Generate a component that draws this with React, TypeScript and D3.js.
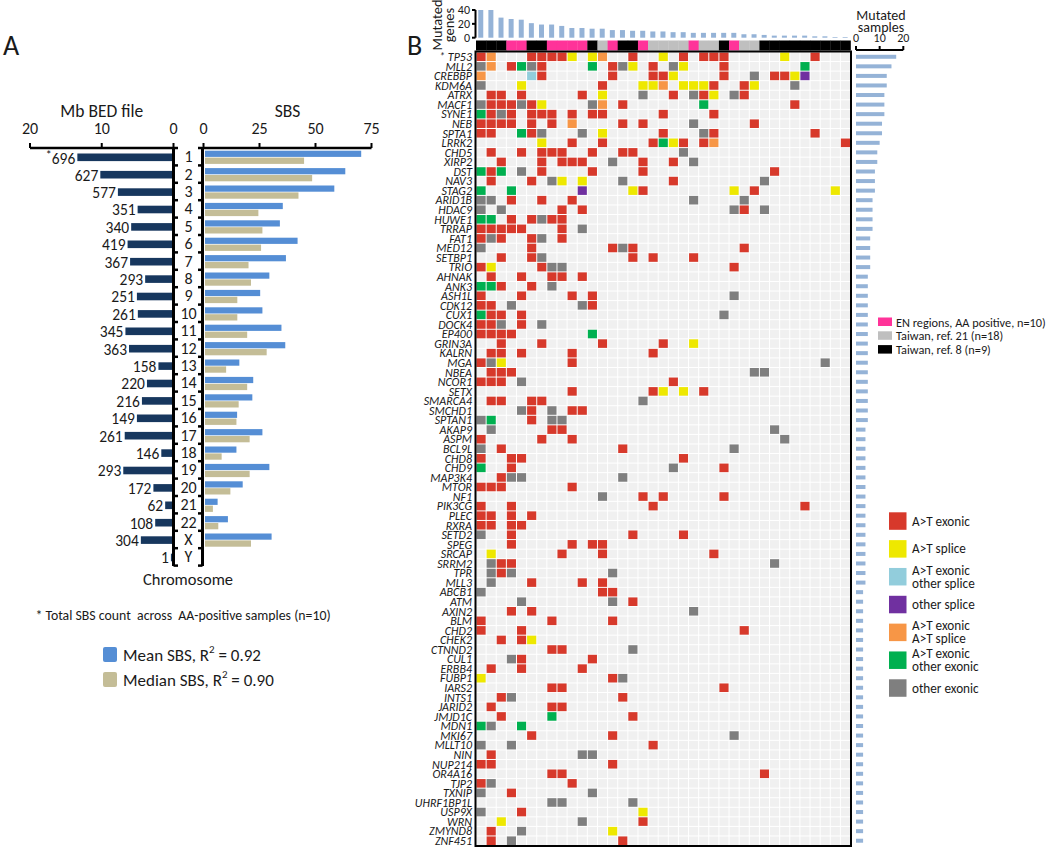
import React from 'react';
import * as d3 from 'd3';

// ---------- Panel A data ----------
const chromosomes = ['1','2','3','4','5','6','7','8','9','10','11','12','13','14','15','16','17','18','19','20','21','22','X','Y'];
const sbsTotals = [696,627,577,351,340,419,367,293,251,261,345,363,158,220,216,149,261,146,293,172,62,108,304,1];
const mbBed = [13.4,10.2,7.75,5.0,5.9,6.4,6.05,3.95,5.1,4.97,6.7,6.2,2.1,3.7,4.4,5.1,6.8,1.7,7.0,2.8,1.16,2.55,4.55,0.36];
const meanSBS = [70.4,63.3,58.4,35.4,34.1,42,36.8,29.4,25.3,26.3,34.8,36.5,16,22.2,21.8,15,26.3,14.7,29.4,17.5,6.3,10.9,30.4,0];
const medianSBS = [44.9,48.5,42.4,24.5,26.3,25.7,20.1,21.2,15.1,15.1,19.5,28.2,10.1,19.5,15.7,14.7,20.6,8.1,20.6,12,4.2,6.6,21.2,0];
const mbTicks = [20,10,0];
const sbsTicks = [0,25,50,75];

// ---------- Panel B data ----------
const genes = ['TP53','MLL2','CREBBP','KDM6A','ATRX','MACF1','SYNE1','NEB','SPTA1','LRRK2','CHD5','XIRP2','DST','NAV3','STAG2','ARID1B','HDAC9','HUWE1','TRRAP','FAT1','MED12','SETBP1','TRIO','AHNAK','ANK3','ASH1L','CDK12','CUX1','DOCK4','EP400','GRIN3A','KALRN','MGA','NBEA','NCOR1','SETX','SMARCA4','SMCHD1','SPTAN1','AKAP9','ASPM','BCL9L','CHD8','CHD9','MAP3K4','MTOR','NF1','PIK3CG','PLEC','RXRA','SETD2','SPEG','SRCAP','SRRM2','TPR','MLL3','ABCB1','ATM','AXIN2','BLM','CHD2','CHEK2','CTNND2','CUL1','ERBB4','FUBP1','IARS2','INTS1','JARID2','JMJD1C','MDN1','MKI67','MLLT10','NIN','NUP214','OR4A16','TJP2','TXNIP','UHRF1BP1L','USP9X','WRN','ZMYND8','ZNF451'];

// code+sample index; r=A>T exonic, y=A>T splice, b=A>T exonic/other splice, p=other splice,
// o=A>T exonic/A>T splice, g=A>T exonic/other exonic, k=other exonic
const mutations = [
  'r0 o1 r5 r6 r7 r8 y9 y11 o12 r15 y18 r20 r22 r23 r24 y30 r33',
  'k0 o1 r3 g4 k5 r6 g11 r13 k14 y15 r17 k19 y20 r24 g32',
  'o0 b5 r6 r13 r17 r18 y19 r24 k27 r29 r30 y31 p32',
  'k0 y4 r12 y16 y17 o18 y20 y21 y22 r23 r26 y27 k31',
  'r1 r2 r4 r10 y12 k16 r19 k21 r22 y23 k25 r26',
  'k0 r1 r2 r3 k4 r5 y6 k11 o12 r14 g22 r31',
  'g0 r1 k2 r3 r5 r6 r7 r9 r11 r12 r18 r23',
  'r0 r1 r2 r3 r5 r7 o9 r14 r16 k21 r27',
  'r0 r1 g4 r5 k6 k10 y12 r18 k22 r23 r33',
  'y6 r9 r12 r17 g18 y19 r20 r22 o23 r36',
  'r1 r4 r6 r7 r8 r11 r14 r15 k20',
  'r2 r6 r8 r9 r10 k13 r16 r19 k21',
  'g0 r1 g2 k4 r6 r11 r16 r29',
  'r1 r5 k7 y8 y10 k14 r19 k28',
  'g0 g3 p10 y15 r16 y25 r27 y35',
  'k0 k1 r3 r6 r9 k21 k26',
  'k0 k2 r8 r10 k25 r26 k28',
  'g0 g1 r3 r5 k6 r7 r8',
  'r0 r1 r2 r3 r4 r8 k10',
  'r0 k1 r2 r5 k6 r8',
  'k0 r5 r13 k14 r15 r26',
  'r2 r5 k6 r15 r17 r21',
  'r0 y1 r6 k7 k8 r25',
  'r1 r4 r7 r8 r10',
  'g0 g1 r2 r5 k7',
  'r0 r4 r9 r11 k25',
  'r0 r1 k3 k10 r11',
  'g0 r1 r2 r4 k24',
  'r0 r1 k2 r4 k6',
  'r0 r1 r2 r3 g11',
  'r2 r6 r12 r18 y21',
  'r1 r2 r4 r9 r17',
  'r0 k1 y2 r9 k34',
  'r1 r2 r3 k27 k28',
  'r0 r1 r2 k4 r19',
  'r9 r17 y18 y20 r22',
  'r1 r2 r5 r6 k16',
  'k4 r5 k7 r9 r10',
  'k0 g1 r5 k7 k8',
  'k1 r7 r8 k29',
  'r0 r6 r9 k30',
  'k0 r2 r14 k25',
  'r0 r3 r4 r20',
  'g0 r3 k19 r24',
  'r2 k3 k4 k14',
  'r0 r1 r2 r9',
  'k12 r16 r18 r24',
  'r0 r3 r17 r32',
  'r0 r1 r3 r5',
  'r0 r1 r3 r4',
  'k0 r3 r15 r20',
  'r3 r9 r11 r12',
  'y1 r8 r12 r23',
  'k1 r2 r3 k29',
  'k1 r2 k3 k13',
  'k1 r5 r10 r12',
  'k0 r12 r13',
  'k4 k13 r15',
  'r3 r5 k21',
  'r0 r7 r13',
  'r0 r4 r26',
  'r2 r4 y5',
  'r7 r8 k15',
  'k3 r4 r11',
  'r1 r4 r10',
  'y0 r13 k14',
  'r7 r8 r24',
  'r2 k3 r14',
  'r1 r7 r8',
  'r2 g7 r15',
  'g0 k1 g4',
  'r5 r13 k25',
  'k0 k3 r17',
  'r1 k10 k11',
  'r0 r1 r13',
  'r7 r8 r28',
  'r0 k1 r9',
  'k0 r3 k11',
  'k7 k8 k15',
  'k0 r4 y16',
  'y2 k10 r16',
  'r1 k4 y13',
  'r1 k3 r14',
];

const mutatedGenesPerSample = [40,40,29,27,26,21,19,19,17,14,14,13,13,11,11,10,10,9,9,8,8,7,7,7,7,7,5,5,4,3,3,3,3,2,2,1,1];
const sampleGroups = ['T8','T8','T8','EN','EN','T8','T8','EN','EN','EN','EN','T8','T21','EN','T8','T8','EN','T21','T21','T21','T21','EN','T21','T21','T8','EN','T21','T21','T8','T8','T8','T8','T8','T8','T8','T8','T8'];
const histTicks = [0,20,40];
const sampleTicks = [0,10,20];

const groupLegend = [
  { key: 'EN', label: 'EN regions, AA positive, n=10)' },
  { key: 'T21', label: 'Taiwan, ref. 21 (n=18)' },
  { key: 'T8', label: 'Taiwan, ref. 8 (n=9)' },
];
const mutLegend = [
  { key: 'r', lines: ['A>T exonic'] },
  { key: 'y', lines: ['A>T splice'] },
  { key: 'b', lines: ['A>T exonic', 'other splice'] },
  { key: 'p', lines: ['other splice'] },
  { key: 'o', lines: ['A>T exonic', 'A>T splice'] },
  { key: 'g', lines: ['A>T exonic', 'other exonic'] },
  { key: 'k', lines: ['other exonic'] },
];

// ---------- styles ----------
const FONT = "Carlito, Lato, 'Open Sans', sans-serif";
const mutColor: Record<string, string> = {
  r: '#d7392b', y: '#eee800', b: '#92cddc', p: '#7030a0', o: '#f79646', g: '#00b050', k: '#7f7f7f',
};
const groupColor: Record<string, string> = { EN: '#ff3399', T21: '#bfbfbf', T8: '#000000' };
const NAVY = '#17375e';
const MEAN = '#558ed5';
const MEDIAN = '#c4bd97';
const LIGHTBAR = '#95b3d7';
const TXT = '#1a1a1a';

export default function App() {
  // Panel A scales
  const yA = d3.scaleBand<string>().domain(chromosomes).range([148, 565.6]);
  const xMb = d3.scaleLinear().domain([0, 20]).range([173.5, 30]);
  const xS = d3.scaleLinear().domain([0, 75]).range([203.5, 371.5]);
  const bwA = yA.bandwidth();

  // Panel B scales
  const cols = d3.range(mutatedGenesPerSample.length);
  const xB = d3.scaleBand<number>().domain(cols).range([476, 850.5]);
  const yB = d3.scaleBand<string>().domain(genes).range([52, 845.5]);
  const cw = xB.bandwidth();
  const rh = yB.bandwidth();
  const yH = d3.scaleLinear().domain([0, 40]).range([37.7, 10]);
  const xR = d3.scaleLinear().domain([0, 20]).range([856, 903.3]);

  const parsed = mutations.map((s) =>
    s.trim().split(/\s+/).map((t) => ({ code: t[0], col: +t.slice(1) }))
  );
  const rowCounts = parsed.map((r) => r.length);

  const boundaries = d3.range(chromosomes.length + 1).map((i) => 148 + i * bwA);

  return (
    <svg width={1050} height={847} style={{ position: 'absolute', left: 0, top: 0, background: '#fff' }} fontFamily={FONT}>
      <rect x={0} y={0} width={1050} height={847} fill="#fff" />
      {/* Panel labels */}
      <text x={3} y={55} fontSize={28} fill={TXT}>A</text>
      <text x={407} y={55} fontSize={28} fill={TXT}>B</text>

      {/* ---------- Panel A ---------- */}
      <text x={(xMb(20) + xMb(0)) / 2} y={111} fontSize={17.5} textAnchor="middle" dominantBaseline="central" fill={TXT}>Mb BED file</text>
      <text x={(xS(0) + xS(75)) / 2} y={111} fontSize={17.5} textAnchor="middle" dominantBaseline="central" fill={TXT}>SBS</text>
      <line x1={xMb(20)} x2={xMb(0)} y1={148} y2={148} stroke="#000" strokeWidth={2.5} />
      {mbTicks.map((t) => (
        <g key={'mt' + t}>
          <line x1={xMb(t)} x2={xMb(t)} y1={148} y2={143} stroke="#000" strokeWidth={2} />
          <text x={xMb(t)} y={128} fontSize={16} textAnchor="middle" dominantBaseline="central" fill={TXT}>{t}</text>
        </g>
      ))}
      <line x1={xS(0)} x2={xS(75)} y1={148} y2={148} stroke="#000" strokeWidth={2.5} />
      {sbsTicks.map((t) => (
        <g key={'st' + t}>
          <line x1={xS(t)} x2={xS(t)} y1={148} y2={143} stroke="#000" strokeWidth={2} />
          <text x={xS(t)} y={128} fontSize={16} textAnchor="middle" dominantBaseline="central" fill={TXT}>{t}</text>
        </g>
      ))}
      {/* bracket axes */}
      <line x1={173.5} x2={173.5} y1={147} y2={566} stroke="#000" strokeWidth={3} />
      <line x1={202.5} x2={202.5} y1={147} y2={566} stroke="#000" strokeWidth={3} />
      {boundaries.map((b, i) => (
        <g key={'bd' + i}>
          <line x1={173.5} x2={178} y1={b} y2={b} stroke="#000" strokeWidth={2.5} />
          <line x1={198} x2={202.5} y1={b} y2={b} stroke="#000" strokeWidth={2.5} />
        </g>
      ))}
      {chromosomes.map((c, i) => {
        const cy = (yA(c) as number) + bwA / 2;
        return (
          <g key={'chr' + c}>
            <rect x={xMb(mbBed[i])} y={cy - 3.2} width={Math.max(0, 172 - xMb(mbBed[i]))} height={7.6} fill={NAVY} />
            <text x={xMb(mbBed[i]) - 2} y={cy + 1} fontSize={15.5} textAnchor="end" dominantBaseline="central" fill={TXT}>
              {i === 0 ? <tspan fontSize={12} dy={-3}>*</tspan> : null}
              {i === 0 ? <tspan dy={3}>{sbsTotals[i]}</tspan> : sbsTotals[i]}
            </text>
            <text x={188.5} y={cy} fontSize={16} textAnchor="middle" dominantBaseline="central" fill={TXT}>{c}</text>
            {meanSBS[i] > 0 && (
              <rect x={xS(0) + 1.5} y={cy - 6} width={xS(meanSBS[i]) - xS(0) - 1.5} height={6.2} fill={MEAN} />
            )}
            {medianSBS[i] > 0 && (
              <rect x={xS(0) + 1.5} y={cy + 0.9} width={xS(medianSBS[i]) - xS(0) - 1.5} height={6.3} fill={MEDIAN} />
            )}
          </g>
        );
      })}
      <text x={188} y={579} fontSize={16.5} textAnchor="middle" dominantBaseline="central" fill={TXT}>Chromosome</text>
      <text x={183} y={615} fontSize={13.8} textAnchor="middle" dominantBaseline="central" fill={TXT} style={{ whiteSpace: 'pre' }}>
        {'* Total SBS count  across  AA-positive samples (n=10)'}
      </text>
      <rect x={103} y={647} width={14} height={15} rx={2} fill={MEAN} />
      <text x={123} y={655} fontSize={17} dominantBaseline="central" fill={TXT}>
        Mean SBS, R<tspan fontSize={11} dy={-6}>2</tspan><tspan dy={6}> = 0.92</tspan>
      </text>
      <rect x={103} y={672} width={14} height={15} rx={2} fill={MEDIAN} />
      <text x={123} y={680} fontSize={17} dominantBaseline="central" fill={TXT}>
        Median SBS, R<tspan fontSize={11} dy={-6}>2</tspan><tspan dy={6}> = 0.90</tspan>
      </text>

      {/* ---------- Panel B ---------- */}
      <g transform="translate(437,25) rotate(-90)">
        <text x={0} y={0} fontSize={14.5} textAnchor="middle" dominantBaseline="central" fill={TXT}>Mutated</text>
        <text x={0} y={11.5} fontSize={14.5} textAnchor="middle" dominantBaseline="central" fill={TXT}>genes</text>
      </g>
      {/* histogram axis */}
      <line x1={475.5} x2={475.5} y1={yH(40)} y2={yH(0)} stroke="#000" strokeWidth={2} />
      {histTicks.map((t) => (
        <g key={'ht' + t}>
          <line x1={472} x2={475.5} y1={yH(t)} y2={yH(t)} stroke="#000" strokeWidth={2} />
          <text x={470} y={yH(t)} fontSize={12} textAnchor="end" dominantBaseline="central" fill={TXT}>{t}</text>
        </g>
      ))}
      {mutatedGenesPerSample.map((v, i) => (
        <rect key={'hb' + i} x={(xB(i) as number) + cw / 2 - 2.8} y={yH(v)} width={5} height={yH(0) - yH(v)} fill={LIGHTBAR} />
      ))}
      {/* sample groups */}
      {sampleGroups.map((g, i) => (
        <rect key={'sg' + i} x={xB(i) as number} y={40.5} width={cw + 0.3} height={10} fill={groupColor[g]} />
      ))}
      {/* grid */}
      <rect x={476} y={52} width={374.5} height={793.5} fill="#fff" />
      {genes.map((g, ri) =>
        cols.map((c) => (
          <rect key={'c' + ri + '_' + c} x={(xB(c) as number) + 0.5} y={(yB(g) as number) + 0.5} width={cw - 1} height={rh - 1} fill="#f0f0f0" />
        ))
      )}
      {parsed.map((row, ri) =>
        row.map((m) => (
          <rect key={'m' + ri + '_' + m.col} x={(xB(m.col) as number) + 0.5} y={(yB(genes[ri]) as number) + 0.5} width={cw - 1} height={rh - 1} fill={mutColor[m.code]} />
        ))
      )}
      <rect x={475.5} y={51.5} width={375.5} height={794.5} fill="none" stroke="#000" strokeWidth={2} />
      {/* gene labels */}
      {genes.map((g, i) => (
        <text key={'gl' + g} x={472} y={(yB(g) as number) + rh / 2 + 0.3} fontSize={12} fontStyle="italic" textAnchor="end" dominantBaseline="central" fill={TXT}>
          {i === 0 ? '* ' + g : g}
        </text>
      ))}
      {/* mutated samples */}
      <text x={881} y={15.5} fontSize={14} textAnchor="middle" dominantBaseline="central" fill={TXT}>Mutated</text>
      <text x={881} y={27} fontSize={14} textAnchor="middle" dominantBaseline="central" fill={TXT}>samples</text>
      <line x1={xR(0)} x2={xR(20)} y1={50} y2={50} stroke="#000" strokeWidth={2} />
      {sampleTicks.map((t) => (
        <g key={'rt' + t}>
          <line x1={xR(t)} x2={xR(t)} y1={50} y2={46} stroke="#000" strokeWidth={2} />
          <text x={xR(t)} y={38.3} fontSize={12} textAnchor="middle" dominantBaseline="central" fill={TXT}>{t}</text>
        </g>
      ))}
      {genes.map((g, i) => (
        <rect key={'rb' + g} x={xR(0)} y={(yB(g) as number) + rh / 2 - 2} width={xR(rowCounts[i]) - xR(0)} height={4} fill={LIGHTBAR} />
      ))}
      {/* group legend */}
      {groupLegend.map((d, i) => (
        <g key={'gleg' + d.key}>
          <rect x={878} y={317.5 + i * 13.8} width={14} height={8.5} fill={groupColor[d.key]} />
          <text x={896} y={322 + i * 13.8} fontSize={12.3} dominantBaseline="central" fill={TXT}>{d.label}</text>
        </g>
      ))}
      {/* mutation legend */}
      {mutLegend.map((d, i) => {
        const y0 = 512.3 + i * 27.83;
        return (
          <g key={'ml' + d.key}>
            <rect x={889} y={y0} width={17.5} height={17.5} fill={mutColor[d.key]} />
            {d.lines.map((l, j) => (
              <text key={j} x={912} y={y0 + 8.75 + (d.lines.length === 2 ? (j === 0 ? -6.5 : 6.5) : 0)} fontSize={13.2} dominantBaseline="central" fill={TXT}>{l}</text>
            ))}
          </g>
        );
      })}
    </svg>
  );
}
